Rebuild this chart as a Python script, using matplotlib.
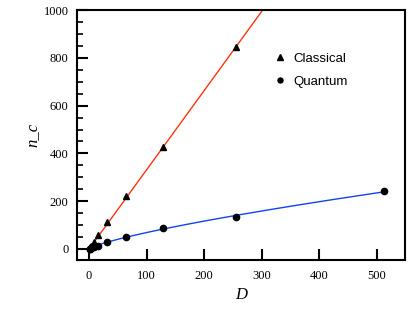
import numpy as np
import matplotlib
matplotlib.use("Agg")
import matplotlib.pyplot as plt
from matplotlib.ticker import MultipleLocator

# --- data ---
d_values = [1, 2, 4, 8, 16, 32, 64, 128, 256]
classical = [3, 7, 14, 30, 60, 112, 220, 425, 845]
d_quantum = [1, 2, 4, 8, 16, 32, 64, 128, 256, 512]
quantum = [1, 2, 4, 7, 13, 28, 51, 86, 133, 243]

plt.rcParams['font.family'] = ['Liberation Serif', 'DejaVu Serif']

fig = plt.figure(figsize=(4.15, 3.09), dpi=100)
ax = fig.add_axes([0.1855, 0.1586, 0.7905, 0.809])

# linear fit through the origin for the classical points
dc = np.array(d_values, float)
nc = np.array(classical, float)
slope = (dc * nc).sum() / (dc * dc).sum()
xs = np.linspace(0, 320, 50)
ax.plot(xs, slope * xs, color='#ff3311', lw=1.0, zorder=2)

# power law fit for the quantum points (larger D only)
dq = np.array(d_quantum, float)
nq = np.array(quantum, float)
sel = dq >= 32
b, loga = np.polyfit(np.log(dq[sel]), np.log(nq[sel]), 1)
xq = np.linspace(0, 512, 200)
ax.plot(xq, np.exp(loga) * xq ** b, color='#1144ee', lw=1.0, zorder=2)

ax.plot(d_values, classical, '^', color='black', ms=5, ls='none',
        label='Classical', zorder=3)
ax.plot(d_quantum, quantum, 'o', color='black', ms=4.5, ls='none',
        label='Quantum', zorder=3)

ax.set_xlim(-21, 549)
ax.set_ylim(-46, 1000)
ax.xaxis.set_major_locator(MultipleLocator(100))
ax.yaxis.set_major_locator(MultipleLocator(200))
ax.yaxis.set_minor_locator(MultipleLocator(50))
ax.tick_params(direction='in', width=1.5, labelsize=9)
ax.tick_params(axis='x', which='major', length=8, pad=7)
ax.tick_params(axis='y', which='major', length=8, pad=6)
ax.tick_params(axis='y', which='minor', direction='in', length=4, width=1.2)
for s in ax.spines.values():
    s.set_linewidth(1.5)

ax.set_xlabel('D', style='italic', fontsize=12, labelpad=4)
ax.set_ylabel('n_c', style='italic', fontsize=12, labelpad=2)

leg = ax.legend(loc='upper left', bbox_to_anchor=(0.56, 0.878), frameon=False,
                prop={'family': 'Liberation Sans', 'size': 9.5},
                handletextpad=0.4, labelspacing=0.85, markerscale=0.8,
                handlelength=1.2)

fig.savefig('out.png', dpi=100)
